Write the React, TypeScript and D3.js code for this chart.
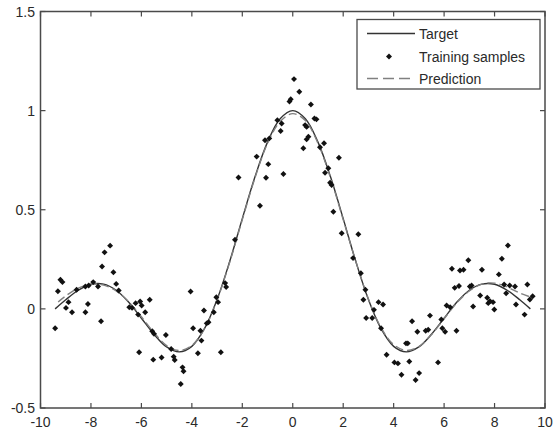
import React from "react";
import * as d3 from "d3";

// Target curve
const targetX = [-9.42, -9, -8.5, -8, -7.5, -7, -6.5, -6, -5.5, -5, -4.5, -4, -3.5, -3, -2.5, -2, -1.5, -1, -0.5, 0, 0.5, 1, 1.5, 2, 2.5, 3, 3.5, 4, 4.5, 5, 5.5, 6, 6.5, 7, 7.5, 8, 8.5, 9, 9.42];
const targetY = [0.0, 0.046, 0.094, 0.124, 0.125, 0.094, 0.033, -0.047, -0.128, -0.192, -0.217, -0.189, -0.1, 0.047, 0.239, 0.455, 0.665, 0.841, 0.959, 1.0, 0.959, 0.841, 0.665, 0.455, 0.239, 0.047, -0.1, -0.189, -0.217, -0.192, -0.128, -0.047, 0.033, 0.094, 0.125, 0.124, 0.094, 0.046, 0.0];

// Prediction curve
const predX = [-9.3, -9, -8.5, -8, -7.5, -7, -6.5, -6, -5.5, -5, -4.5, -4, -3.5, -3, -2.5, -2, -1.5, -1, -0.5, 0, 0.5, 1, 1.5, 2, 2.5, 3, 3.5, 4, 4.5, 5, 5.5, 6, 6.5, 7, 7.5, 8, 8.5, 9, 9.42];
const predY = [0.035, 0.065, 0.105, 0.125, 0.12, 0.09, 0.035, -0.04, -0.12, -0.185, -0.21, -0.185, -0.1, 0.045, 0.235, 0.45, 0.66, 0.835, 0.945, 0.985, 0.95, 0.835, 0.66, 0.45, 0.24, 0.05, -0.095, -0.18, -0.21, -0.19, -0.13, -0.05, 0.03, 0.09, 0.125, 0.13, 0.11, 0.08, 0.06];

// Training samples
const sampleX = [-9.42, -9.31, -9.21, -9.13, -8.99, -8.89, -8.75, -8.57, -8.22, -8.12, -8.22, -8.09, -7.91, -7.72, -7.6, -7.56, -7.46, -7.24, -7.11, -7.0, -6.9, -6.48, -6.37, -6.23, -6.13, -6.05, -5.99, -6.09, -5.85, -5.67, -5.57, -5.5, -5.53, -5.2, -5.03, -4.82, -4.72, -4.68, -4.44, -4.37, -4.33, -4.05, -3.95, -3.76, -3.66, -3.62, -3.52, -3.41, -3.34, -3.13, -3.03, -2.96, -2.85, -2.68, -2.64, -2.15, -2.29, -1.43, -1.3, -1.1, -1.06, -0.93, -0.97, -0.61, -0.44, -0.48, -0.37, -0.08, -0.13, 0.05, 0.26, 0.72, 0.86, 0.94, 0.49, 0.55, 0.62, 0.55, 0.42, 1.24, 1.08, 1.83, 1.41, 1.28, 1.48, 1.54, 1.61, 1.94, 2.39, 2.6, 2.7, 2.8, 2.88, 2.91, 3.15, 3.22, 3.4, 3.58, 3.5, 3.72, 4.03, 4.17, 4.31, 4.49, 4.56, 4.62, 4.73, 4.87, 4.94, 5.01, 5.27, 5.37, 5.44, 5.76, 5.89, 5.93, 6.04, 6.1, 6.24, 6.31, 6.42, 6.49, 6.59, 6.63, 6.77, 6.96, 7.02, 7.09, 7.15, 7.43, 7.5, 7.71, 7.75, 7.82, 7.94, 7.99, 8.17, 8.29, 8.38, 8.46, 8.53, 8.6, 8.81, 8.85, 9.19, 9.3, 9.4, 9.51];
const sampleY = [-0.098, 0.089, 0.147, 0.135, 0.005, 0.034, -0.017, 0.096, -0.017, 0.025, 0.113, 0.118, 0.135, 0.113, -0.062, 0.214, 0.285, 0.319, 0.185, 0.126, 0.093, 0.008, 0.005, 0.029, -0.029, 0.037, 0.017, -0.219, -0.017, 0.046, -0.113, -0.126, -0.256, -0.245, -0.132, -0.202, -0.241, -0.258, -0.379, -0.295, -0.315, 0.088, -0.098, -0.224, -0.11, -0.16, -0.008, -0.073, -0.067, -0.017, 0.059, 0.034, -0.219, 0.13, 0.11, 0.663, 0.349, 0.768, 0.52, 0.851, 0.661, 0.86, 0.73, 0.952, 0.935, 0.897, 0.68, 1.057, 1.046, 1.159, 1.095, 1.031, 0.96, 0.956, 0.927, 0.918, 0.868, 0.855, 0.81, 0.835, 0.815, 0.762, 0.709, 0.687, 0.636, 0.625, 0.49, 0.381, 0.256, 0.376, 0.18, 0.046, 0.096, -0.046, -0.046, -0.005, 0.034, 0.022, -0.098, -0.231, -0.27, -0.275, -0.332, -0.174, -0.174, -0.265, -0.062, -0.359, -0.115, -0.324, -0.11, -0.105, -0.034, -0.27, -0.054, -0.098, -0.115, 0.017, 0.008, 0.202, 0.106, -0.11, 0.115, 0.194, 0.197, 0.245, 0.113, 0.118, 0.012, 0.067, 0.197, 0.056, 0.029, 0.039, 0.034, -0.003, 0.174, 0.253, 0.123, 0.079, 0.32, 0.118, 0.113, 0.022, -0.029, 0.123, 0.047, 0.064];

const xTicks = [-10, -8, -6, -4, -2, 0, 2, 4, 6, 8, 10];
const yTicks = [-0.5, 0, 0.5, 1, 1.5];
const legendLabels = ["Target", "Training samples", "Prediction"];

function Marker({ cx, cy }: { cx: number; cy: number }) {
  const s = 4.2;
  return (
    <rect
      x={-s / 2}
      y={-s / 2}
      width={s}
      height={s}
      fill="#111"
      transform={`translate(${cx},${cy}) rotate(45)`}
    />
  );
}

export default function App() {
  const left = 40.5, right = 545, top = 11.5, bottom = 408;
  const x = d3.scaleLinear().domain([-10, 10]).range([left, right]);
  const y = d3.scaleLinear().domain([-0.5, 1.5]).range([bottom, top]);
  const line = d3
    .line<[number, number]>()
    .x((d) => x(d[0]))
    .y((d) => y(d[1]))
    .curve(d3.curveCatmullRom);
  const tPath = line(targetX.map((v, i) => [v, targetY[i]]) as [number, number][]) || "";
  const pPath = line(predX.map((v, i) => [v, predY[i]]) as [number, number][]) || "";
  const axisColor = "#4a4a4a";
  const textColor = "#2a2a2a";
  const font = "'Liberation Sans', Arial, sans-serif";
  const tl = 5;
  const lg = { x0: 357, y0: 19.5, x1: 540, y1: 89 };
  const rows = [33.5, 56.5, 78.5];

  return (
    <svg width={553} height={435} style={{ position: "absolute", left: 0, top: 0, background: "#fff" }} fontFamily={font}>
      <rect x={0} y={0} width={553} height={435} fill="#fff" />
      {/* curves */}
      <path d={tPath} fill="none" stroke="#333" strokeWidth={1.4} />
      <path d={pPath} fill="none" stroke="#808080" strokeWidth={1.4} strokeDasharray="8,4" />
      {/* samples */}
      {sampleX.map((v, i) => (
        <Marker key={i} cx={x(v)} cy={y(sampleY[i])} />
      ))}
      {/* axes box */}
      <rect x={left} y={top} width={right - left} height={bottom - top} fill="none" stroke={axisColor} strokeWidth={1.5} />
      {xTicks.map((t) => (
        <g key={"x" + t}>
          <line x1={x(t)} x2={x(t)} y1={bottom} y2={bottom - tl} stroke={axisColor} strokeWidth={1.2} />
          <line x1={x(t)} x2={x(t)} y1={top} y2={top + tl} stroke={axisColor} strokeWidth={1.2} />
          <text x={x(t)} y={427} textAnchor="middle" fontSize={14} fill={textColor}>
            {t}
          </text>
        </g>
      ))}
      {yTicks.map((t) => (
        <g key={"y" + t}>
          <line x1={left} x2={left + tl} y1={y(t)} y2={y(t)} stroke={axisColor} strokeWidth={1.2} />
          <line x1={right} x2={right - tl} y1={y(t)} y2={y(t)} stroke={axisColor} strokeWidth={1.2} />
          <text x={35} y={y(t) + 5} textAnchor="end" fontSize={14} fill={textColor}>
            {t}
          </text>
        </g>
      ))}
      {/* legend */}
      <rect x={lg.x0} y={lg.y0} width={lg.x1 - lg.x0} height={lg.y1 - lg.y0} fill="#fff" stroke={axisColor} strokeWidth={1.3} />
      <line x1={367} x2={415} y1={rows[0]} y2={rows[0]} stroke="#333" strokeWidth={1.4} />
      <Marker cx={389} cy={rows[1]} />
      <line x1={367} x2={415} y1={rows[2]} y2={rows[2]} stroke="#808080" strokeWidth={1.4} strokeDasharray="11,5" />
      {legendLabels.map((l, i) => (
        <text key={l} x={419} y={rows[i] + 5} fontSize={14} fill={textColor}>
          {l}
        </text>
      ))}
    </svg>
  );
}
